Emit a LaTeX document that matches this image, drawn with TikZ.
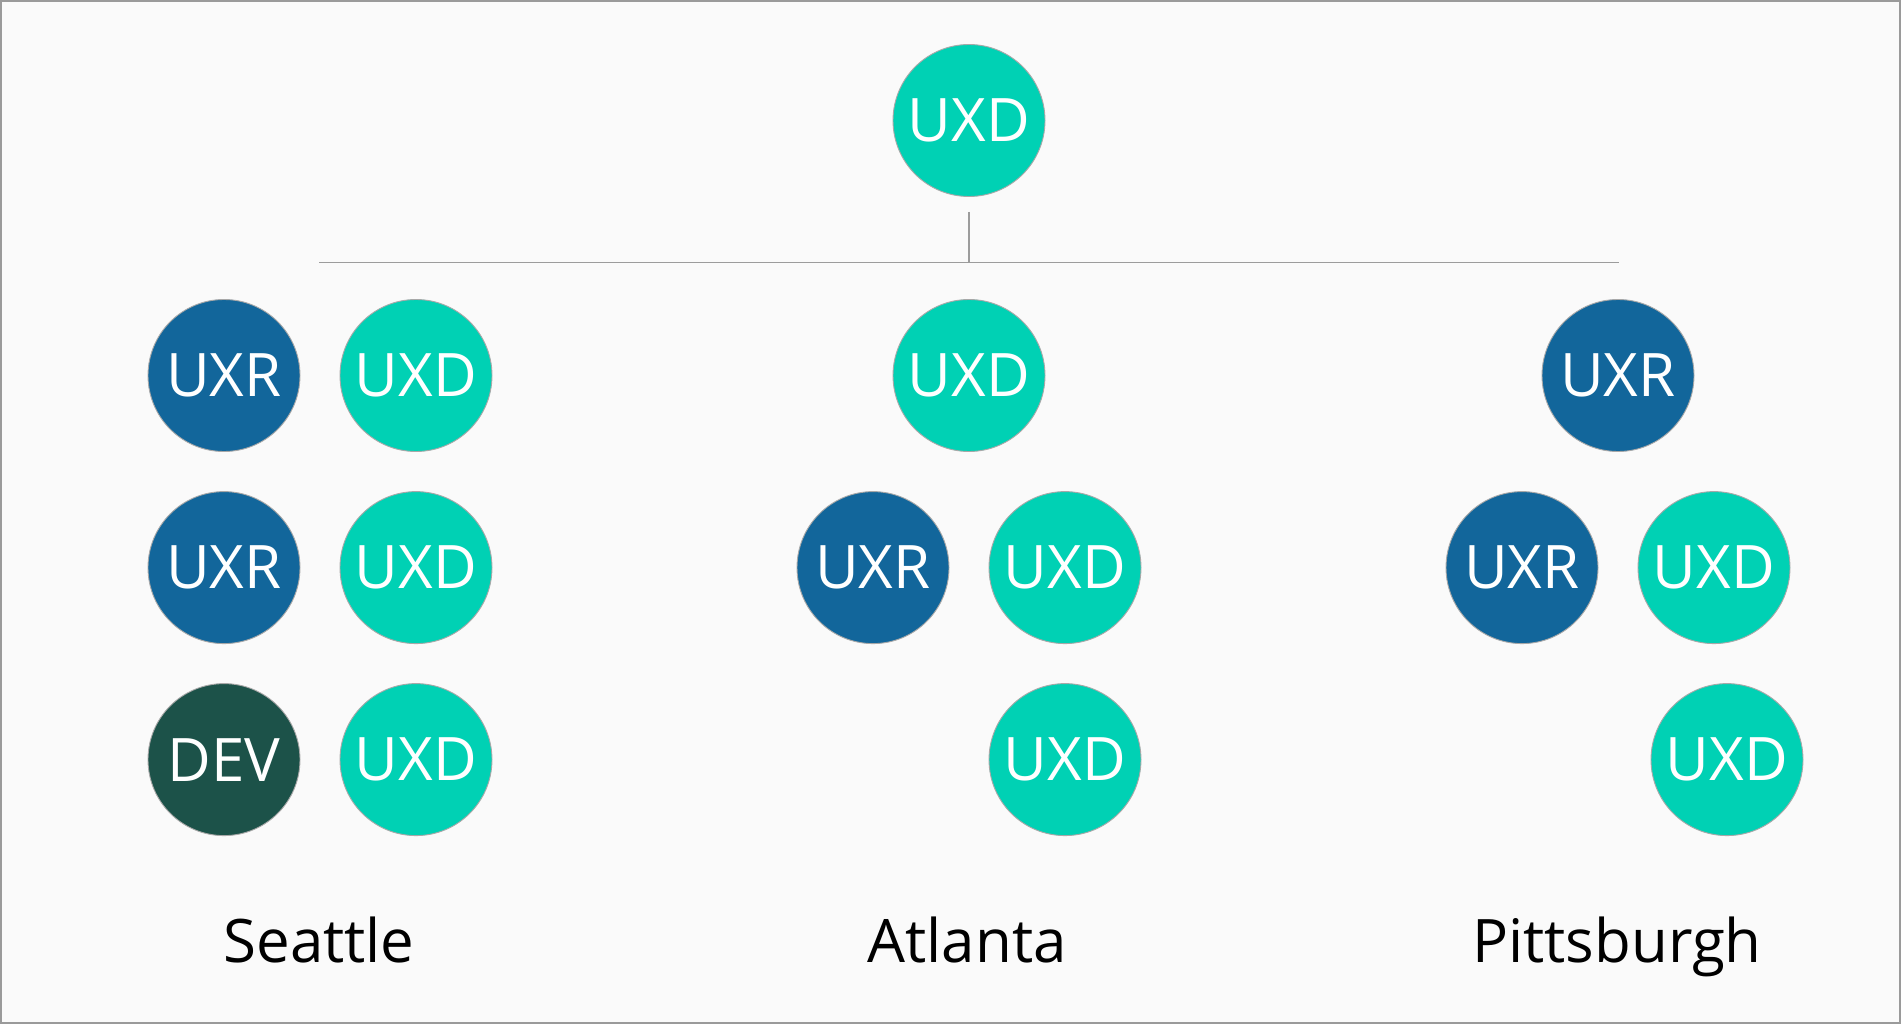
\documentclass[tikz,border=0pt]{standalone}
\usepackage{fontspec}
\setmainfont{Open Sans}
\definecolor{bgc}{HTML}{FAFAFA}
\definecolor{framec}{HTML}{9A9A9A}
\definecolor{linec}{HTML}{9C9C9C}
\definecolor{teal}{HTML}{00D1B4}
\definecolor{uxrblue}{HTML}{12669B}
\definecolor{devgreen}{HTML}{1C5249}
\definecolor{rimc}{HTML}{A8A8A8}
\tikzset{
  role/.style={circle, minimum size=152pt, inner sep=0pt, draw=rimc, line width=0.9pt,
    text=white, font=\fontsize{60}{70}\selectfont},
  uxd/.style={role, fill=teal},
  uxr/.style={role, fill=uxrblue},
  dev/.style={role, fill=devgreen},
  city/.style={anchor=base, text=black, inner sep=0pt, font=\fontsize{60}{70}\selectfont},
  conn/.style={draw=linec, line width=1.5pt}
}
\begin{document}
\begin{tikzpicture}[x=1pt, y=-1pt]
\useasboundingbox (0,0) rectangle (1901,1024);
\fill[bgc] (0,0) rectangle (1901,1024);
\draw[framec, line width=2pt] (1,1) rectangle (1900,1023);
% root
\node[uxd] (root) at (969,120.5) {UXD};
\coordinate (j) at (969,262.3);
\coordinate (hl) at (319,262.3);
\coordinate (hr) at (1619,262.3);
\draw[conn, shorten <=15pt] (root) -- (j);
\draw[conn] (hl) -- (hr);
% Seattle
\node[uxr] (s11) at (224,375.5) {UXR};
\node[uxd] (s12) at (416,375.5) {UXD};
\node[uxr] (s21) at (224,567.6) {UXR};
\node[uxd] (s22) at (416,567.6) {UXD};
\node[dev] (s31) at (224,759.6) {DEV};
\node[uxd] (s32) at (416,759.6) {UXD};
\node[city] (seattle) at (319,962) {Seattle};
% Atlanta
\node[uxd] (a1) at (969,375.5) {UXD};
\node[uxr] (a21) at (873,567.6) {UXR};
\node[uxd] (a22) at (1065,567.6) {UXD};
\node[uxd] (a3) at (1065,759.6) {UXD};
\node[city] (atlanta) at (967,962) {Atlanta};
% Pittsburgh
\node[uxr] (p1) at (1618,375.5) {UXR};
\node[uxr] (p21) at (1522,567.6) {UXR};
\node[uxd] (p22) at (1714,567.6) {UXD};
\node[uxd] (p3) at (1727,759.6) {UXD};
\node[city] (pittsburgh) at (1617,962) {Pittsburgh};
\end{tikzpicture}
\end{document}
